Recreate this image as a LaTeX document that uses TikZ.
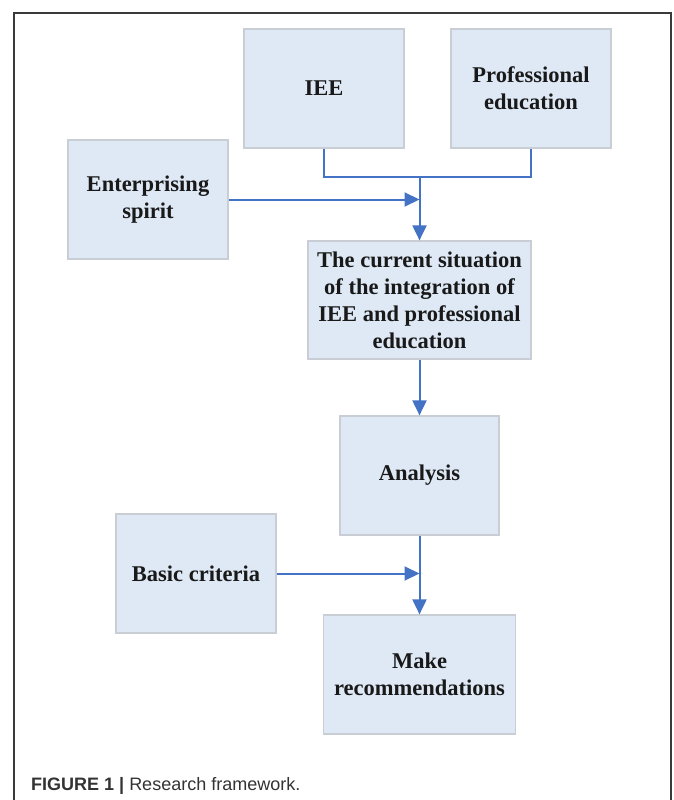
\documentclass[tikz,border=0pt]{standalone}
\usepackage{fontspec}
\setmainfont{Liberation Serif}
\newfontfamily\capfont{Liberation Sans}
\usepackage{tikz}
\usetikzlibrary{arrows.meta}
\usetikzlibrary{calc}
\definecolor{boxfill}{HTML}{DEE9F5}
\definecolor{boxline}{HTML}{C9CED5}
\definecolor{linkblue}{HTML}{4472C4}
\definecolor{framegray}{HTML}{3A3A3A}

\begin{document}
\begin{tikzpicture}[x=1pt,y=-1pt,
    box/.style={draw=boxline,line width=1.2pt,fill=boxfill,align=center,inner sep=0pt,
        font=\fontsize{22.5}{27}\selectfont\bfseries,text=black!90},
    link/.style={draw=linkblue,line width=2pt},
    arr/.style={link,-{Triangle[length=15pt,width=14pt]}}]
                \useasboundingbox (0,0) rectangle (673,800);
                \draw[framegray,line width=1.6pt] (14,800) -- (14,13) -- (671,13) -- (671,800);
                \node[box,minimum width=160pt,minimum height=119pt] (iee) at (324,88.5) {IEE};
                \node[box,minimum width=160pt,minimum height=119pt] (prof) at (531,88.5) {Professional\\education};
                \node[box,minimum width=160pt,minimum height=119pt] (spirit) at (148,199.5) {Enterprising\\spirit};
                \node[box,minimum width=223pt,minimum height=118pt] (cur) at (419.5,300) {The current situation\\of the integration of\\IEE and professional\\education};
                \node[box,minimum width=159pt,minimum height=119pt] (ana) at (419.5,475.5) {Analysis};
                \node[box,minimum width=160pt,minimum height=119pt] (crit) at (196,573.5) {Basic criteria};
                \node[box,minimum width=192pt,minimum height=119pt] (rec) at (419.5,674.5) {Make\\recommendations};
                \coordinate (merge) at (419.5,177);
                \draw[link] (iee.south) |- (merge) -| (prof.south);
                \draw[arr] (merge) -- (cur.north);
                \draw[arr] (spirit.east) -- (spirit.east -| cur.north);
                \draw[arr] (cur.south) -- (ana.north);
                \draw[arr] (ana.south) -- (rec.north);
                \draw[arr] (crit.east) -- (crit.east -| rec.north);
                \node[anchor=base west,inner sep=0pt,text=black!80,font=\capfont\fontsize{18}{21}\selectfont] (cap) at (31,790) {\textbf{FIGURE 1} \textbf{|} Research framework.};
\end{tikzpicture}
\end{document}
